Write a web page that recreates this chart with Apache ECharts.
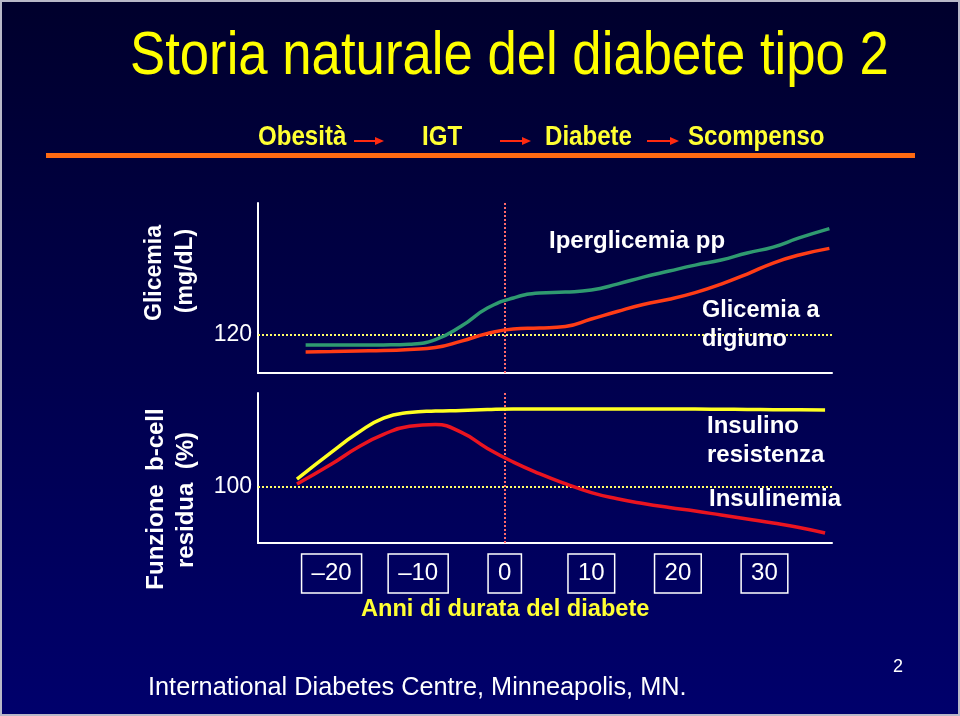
<!DOCTYPE html>
<html>
<head>
<meta charset="utf-8">
<script src="https://cdn.jsdelivr.net/npm/echarts@6/dist/echarts.min.js"></script>
<style>
html,body{margin:0;padding:0;width:960px;height:716px;overflow:hidden;background:#000040;}
#chart{width:960px;height:716px;}
</style>
</head>
<body>
<div id="chart"></div>
<script>
// ---- Data ----
const xTickValues = [-20, -10, 0, 10, 20, 30];
const topTickValues = [120];
const bottomTickValues = [100];

// Top panel: glycaemia (mg/dL, schematic)
const topYears = [-23, -20, -17, -14, -11, -8, -5, -2, 1, 4, 7, 10, 13, 16, 19, 22, 25, 28, 31, 34, 37.5];
const iperglicemiaPP = [114.7, 114.7, 114.7, 114.8, 115.2, 117.6, 124.7, 134.2, 139.5, 142.1, 142.6, 143.7, 146.8, 150.5, 153.7, 156.8, 159.5, 163.2, 166.3, 171.1, 176.0];
const glicemiaDigiuno = [111.1, 111.3, 111.6, 111.8, 112.4, 113.4, 116.8, 120.8, 123.2, 123.7, 124.5, 128.4, 132.4, 136.1, 138.8, 142.3, 146.8, 152.1, 157.9, 162.1, 165.6];

// Bottom panel: beta-cell function (%, schematic)
const bottomYears = [-24, -20, -17, -14, -11, -8, -5, -2, 1, 4, 7, 10, 13, 16, 19, 22, 25, 28, 31, 34, 37];
const insulinoResistenza = [114.3, 162.5, 196.4, 223.2, 233.0, 235.7, 236.8, 238.4, 239.3, 239.3, 239.3, 239.3, 239.3, 239.3, 239.3, 239.3, 239.0, 238.6, 238.2, 237.9, 237.5];
const insulinemia = [105.4, 141.1, 170.5, 194.0, 208.5, 211.5, 197.5, 169.0, 144.6, 124.0, 106.0, 90.0, 79.0, 70.5, 63.4, 57.1, 50.0, 42.9, 35.7, 27.7, 17.9];

const zip = (xs, ys) => xs.map((x, i) => [x, ys[i]]);

const FONT = '"Liberation Sans", Arial, Helvetica, sans-serif';
const WHITE = '#ffffff';

const chart = echarts.init(document.getElementById('chart'), null, {renderer: 'canvas'});

const axisLineStyle = {show: true, onZero: false, lineStyle: {color: WHITE, width: 2}};

function arrow(x1, x2, y) {
  return {
    type: 'group',
    children: [
      {type: 'line', shape: {x1: x1, y1: y, x2: x2 - 6, y2: y}, style: {stroke: '#ff2a10', lineWidth: 2}},
      {type: 'polygon', shape: {points: [[x2, y], [x2 - 9, y - 4], [x2 - 9, y + 4]]}, style: {fill: '#ff2a10'}}
    ]
  };
}

function txt(text, x, y, opts) {
  opts = opts || {};
  return {
    type: 'text', x: x, y: y,
    rotation: opts.rotation || 0,
    scaleX: opts.scaleX || 1,
    style: {
      text: text,
      fill: opts.color || WHITE,
      font: (opts.weight || 'normal') + ' ' + (opts.size || 24) + 'px ' + FONT,
      textAlign: opts.align || 'left',
      textVerticalAlign: 'middle'
    },
    z: 10
  };
}

const lineCommon = {type: 'line', smooth: 0.5, showSymbol: false};

const option = {
  backgroundColor: new echarts.graphic.LinearGradient(0, 0, 0, 1, [
    {offset: 0, color: '#00002c'},
    {offset: 1, color: '#00006c'}
  ]),
  animation: false,
  grid: [
    {left: 258, top: 203, width: 574, height: 170},
    {left: 258, top: 393, width: 574, height: 150}
  ],
  xAxis: [
    {type: 'value', gridIndex: 0, min: -28.5, max: 37.8,
     axisLine: axisLineStyle, axisTick: {show: false}, axisLabel: {show: false}, splitLine: {show: false}},
    {type: 'value', gridIndex: 1, min: -28.5, max: 37.8,
     axisLine: axisLineStyle, axisTick: {show: false}, splitLine: {show: false},
     axisLabel: {
       customValues: xTickValues,
       formatter: v => (v < 0 ? '\u2013' + Math.abs(v) : String(v)),
       color: WHITE, fontFamily: FONT, fontSize: 24, lineHeight: 25,
       borderColor: WHITE, borderWidth: 1.5, padding: [7, 10, 7, 10],
       margin: 11, hideOverlap: false
     }}
  ],
  yAxis: [
    {type: 'value', gridIndex: 0, min: 100, max: 189.5,
     axisLine: axisLineStyle, axisTick: {show: false}, splitLine: {show: false},
     axisLabel: {customValues: topTickValues, color: WHITE, fontFamily: FONT, fontSize: 23, margin: 6}},
    {type: 'value', gridIndex: 1, min: 0, max: 268,
     axisLine: axisLineStyle, axisTick: {show: false}, splitLine: {show: false},
     axisLabel: {customValues: bottomTickValues, color: WHITE, fontFamily: FONT, fontSize: 23, margin: 6}}
  ],
  series: [
    Object.assign({name: 'Glicemia a digiuno', xAxisIndex: 0, yAxisIndex: 0,
     data: zip(topYears, glicemiaDigiuno),
     lineStyle: {color: '#ff3c16', width: 3.5}, z: 5,
     markLine: {silent: true, symbol: 'none', label: {show: false},
       data: [
         {yAxis: 120, lineStyle: {color: '#ffff66', type: [2, 2], width: 2}},
         {xAxis: 0, lineStyle: {color: '#ff6a6a', type: [2, 2], width: 2}}
       ]}}, lineCommon),
    Object.assign({name: 'Iperglicemia pp', xAxisIndex: 0, yAxisIndex: 0,
     data: zip(topYears, iperglicemiaPP),
     lineStyle: {color: '#2f9a70', width: 3.5}, z: 6}, lineCommon),
    Object.assign({name: 'Insulinemia', xAxisIndex: 1, yAxisIndex: 1,
     data: zip(bottomYears, insulinemia),
     lineStyle: {color: '#ea1420', width: 3.5}, z: 5,
     markLine: {silent: true, symbol: 'none', label: {show: false},
       data: [
         {yAxis: 100, lineStyle: {color: '#ffff66', type: [2, 2], width: 2}},
         {xAxis: 0, lineStyle: {color: '#ff6a6a', type: [2, 2], width: 2}}
       ]}}, lineCommon),
    Object.assign({name: 'Insulino resistenza', xAxisIndex: 1, yAxisIndex: 1,
     data: zip(bottomYears, insulinoResistenza),
     lineStyle: {color: '#ffff22', width: 3.5}, z: 6}, lineCommon)
  ],
  graphic: [
    {type: 'rect', shape: {x: 1, y: 1, width: 958, height: 714}, style: {fill: 'none', stroke: '#b8b8c8', lineWidth: 2}, z: 20},
    txt('Storia naturale del diabete tipo 2', 130, 57, {size: 62, color: '#ffff00', scaleX: 0.85}),
    {type: 'rect', shape: {x: 46, y: 153, width: 869, height: 5}, style: {fill: '#ff6a12'}},
    txt('Obesità', 258, 137, {size: 28, weight: 'bold', color: '#ffff33', scaleX: 0.86}),
    arrow(354, 384, 141),
    txt('IGT', 422, 137, {size: 28, weight: 'bold', color: '#ffff33', scaleX: 0.86}),
    arrow(500, 531, 141),
    txt('Diabete', 545, 137, {size: 28, weight: 'bold', color: '#ffff33', scaleX: 0.86}),
    arrow(647, 679, 141),
    txt('Scompenso', 688, 137, {size: 28, weight: 'bold', color: '#ffff33', scaleX: 0.86}),
    txt('Glicemia', 155, 273, {size: 23, weight: 'bold', align: 'center', rotation: Math.PI / 2}),
    txt('(mg/dL)', 186, 271, {size: 23, weight: 'bold', align: 'center', rotation: Math.PI / 2}),
    txt('Funzione  b-cell', 156, 499, {size: 24, weight: 'bold', align: 'center', rotation: Math.PI / 2}),
    txt('residua  (%)', 186, 500, {size: 24, weight: 'bold', align: 'center', rotation: Math.PI / 2}),
    txt('Iperglicemia pp', 549, 241, {size: 24, weight: 'bold'}),
    txt('Glicemia a', 702, 311, {size: 23.5, weight: 'bold'}),
    txt('digiuno', 702, 340, {size: 23.5, weight: 'bold'}),
    txt('Insulino', 707, 426, {size: 24, weight: 'bold'}),
    txt('resistenza', 707, 455, {size: 24, weight: 'bold'}),
    txt('Insulinemia', 709, 499, {size: 24, weight: 'bold'}),
    txt('Anni di durata del diabete', 361, 609, {size: 23.6, weight: 'bold', color: '#ffff33'}),
    txt('International Diabetes Centre, Minneapolis, MN.', 148, 688, {size: 25.3}),
    txt('2', 893, 667, {size: 18})
  ]
};

chart.setOption(option);
</script>
</body>
</html>
